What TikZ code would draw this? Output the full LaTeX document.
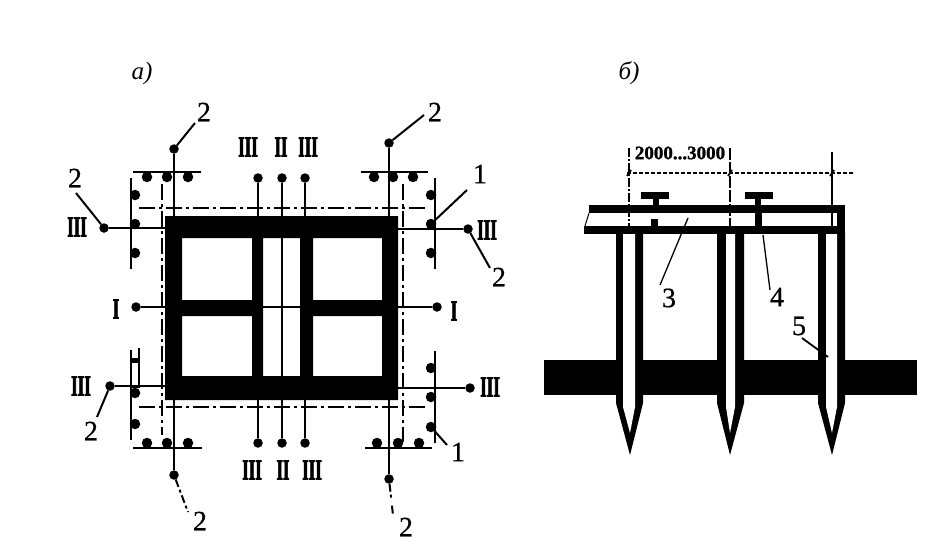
\documentclass[tikz,border=0pt]{standalone}
\usepackage{fontspec}
\setmainfont{Liberation Serif}
\newfontfamily\romfont[FakeBold=3]{Liberation Serif}
\newfontfamily\numfont[FakeBold=0.6]{Liberation Serif}
\newfontfamily\dimfont[FakeBold=1.2]{Liberation Serif}
\tikzset{
  x=1pt,y=-1pt,
  every node/.style={inner sep=0pt,outer sep=0pt},
  dotn/.style={circle,fill=black,minimum size=9.5pt},
  smalldot/.style={circle,fill=black,minimum size=10.5pt},
  thinl/.style={line width=1.5pt},
  leaderl/.style={line width=2pt},
  axisl/.style={line width=1.5pt,dash pattern=on 16pt off 4pt on 3pt off 4pt},
  num/.style={font=\fontsize{28}{28}\numfont},
  rom/.style={font=\fontsize{29}{29}\romfont\bfseries,xscale=.58},
  ital/.style={font=\fontsize{25}{25}\selectfont\itshape},
  dimtext/.style={font=\fontsize{19}{19}\dimfont\bfseries},
  wall/.style={fill=black,draw=none},
}
\begin{document}
\begin{tikzpicture}
\useasboundingbox (0,0) rectangle (949,551);
% titles
\node[ital] (ta) at (142,73) {a)};
\node[ital] (tb) at (629,73) {б)};
% frame
\path[wall,even odd rule] (165,216) rectangle (398,400)
  (182,238) rectangle (252,300) (182,316) rectangle (252,376)
  (263,238) rectangle (300,376)
  (313,238) rectangle (382,300) (313,316) rectangle (382,376);
\coordinate (fL) at (165,307); \coordinate (fR) at (398,307);
% axes
\coordinate (ah1) at (139,208); \coordinate (ah2) at (427,208);
\coordinate (ah3) at (139,407); \coordinate (ah4) at (428,407);
\coordinate (av1) at (162,184); \coordinate (av2) at (162,435);
\coordinate (av3) at (403,184); \coordinate (av4) at (403,442);
\draw[axisl] (ah1) -- (ah2);
\draw[axisl] (ah3) -- (ah4);
\draw[axisl] (av1) -- (av2);
\draw[axisl] (av3) -- (av4);
% batter bars
\coordinate (b1a) at (133,172); \coordinate (b1b) at (201,172);
\coordinate (b2a) at (361,172); \coordinate (b2b) at (428,172);
\coordinate (b3a) at (133,448); \coordinate (b3b) at (202,448);
\coordinate (b4a) at (365,448); \coordinate (b4b) at (432,448);
\coordinate (b5a) at (131,178); \coordinate (b5b) at (131,269);
\coordinate (b6a) at (435,178); \coordinate (b6b) at (435,269);
\coordinate (b7a) at (131,350); \coordinate (b7b) at (131,440);
\coordinate (b8a) at (435,351); \coordinate (b8b) at (435,443);
\foreach \p/\q in {b1a/b1b,b2a/b2b,b3a/b3b,b4a/b4b,b5a/b5b,b6a/b6b,b7a/b7b,b8a/b8b}
  \draw[line width=2.6pt] (\p) -- (\q);
% nails
\foreach \n/\x/\y in {n1/147/177,n2/167/177,n3/188/177,n4/374/177,n5/393/177,n6/413/177,
  n7/147/443,n8/167/443,n9/188/443,n10/377/443,n11/398/443,n12/419/443,
  n13/135/195,n14/135/224,n15/135/253,n16/431/195,n17/431/224,n18/431/253,
  n19/135/393,n20/135/424,n21/431/368,n22/431/397,n23/431/427}
  \node[smalldot] (\n) at (\x,\y) {};
\draw[line width=2.4pt] (131,360) -- (139,360) -- (139,387) -- (131,387);
\draw[line width=2.4pt] (139,348) -- (139,360);
\fill (131,358) rectangle (139,363);
% section-line dots
\foreach \n/\x/\y in {s1/258/178,s2/282/178,s3/305/178,s4/258/443,s5/282/443,s6/305/443,
  a1/174/149,a2/389/143,a3/174/475,a4/389/479,
  h1/104/228,h2/468/229,h3/110/386,h4/470/388,h5/136/307,h6/437/307}
  \node[dotn] (\n) at (\x,\y) {};
\foreach \d/\x/\y in {s1/258/216,s2/282/216,s3/305/216,s4/258/400,s5/282/400,s6/305/400,
  a1/174/216,a2/389/216,a3/174/400,a4/389/400,h1/165/228,h2/398/229,h3/165/386,h4/398/388}
  \draw[thinl] (\d) -- (\x,\y);
\draw[thinl] (h5) -- (fL);
\draw[thinl] (h6) -- (fR);
\draw[thinl] (282,238) -- (282,376);
\draw[thinl] (263,307) -- (300,307);
% labels
\foreach \n/\x/\y/\t in {r1/248/147/III,r2/281/147/II,r3/308/147/III,r4/252/470/III,r5/283/470/II,r6/312/470/III,
  r7/77/227/III,r8/487/230/III,r9/81/386/III,r10/490/387/III,r11/116/309/I,r12/454/311/I}
  \node[rom] (\n) at (\x,\y) {\t};
\foreach \n/\x/\y in {c1/204/112,c2/435/112,c3/75/178,c4/499/277,c5/91/431,c6/200/521,c7/406/527}
  \node[num] (\n) at (\x,\y) {2};
\node[num] (one1) at (480,174) {1};
\node[num] (one2) at (458,452) {1};
% leaders
\coordinate (l1) at (195,123); \coordinate (l2) at (424,115); \coordinate (l3) at (76,193);
\coordinate (l4) at (490,268); \coordinate (l5) at (97,417); \coordinate (l6) at (188,512);
\coordinate (l7) at (393,515); \coordinate (l8) at (467,190); \coordinate (l9) at (447,445);
\draw[leaderl] (a1) -- (l1);
\draw[leaderl] (a2) -- (l2);
\draw[leaderl] (h1) -- (l3);
\draw[leaderl] (h2) -- (l4);
\draw[leaderl] (h3) -- (l5);
\draw[leaderl,dash pattern=on 8pt off 3pt on 3pt off 3pt] (a3) -- (l6);
\draw[leaderl,dash pattern=on 8pt off 3pt on 3pt off 8pt] (a4) -- (l7);
\draw[leaderl] (n17) -- (l8);
\draw[leaderl] (n23) -- (l9);
% ---- right figure ----
\path[wall] (544,360) rectangle (917,395);
\foreach \c/\oL/\oR/\iL/\iR in {630/616/643/623/635,730/717/744/726/735,832/818/845/826/837}{
  \fill (\oL,233) -- (\oR,233) -- (\oR,403) -- (\c,455) -- (\oL,403) -- cycle;
  \fill[white] (\iL,226) -- (\iR,226) -- (\iR,407) -- (\c,433) -- (\iL,407) -- cycle;
}
% deck
\path[wall] (589,205) rectangle (845,213);
\path[wall] (584,226) rectangle (845,234);
\path[wall] (837,205) rectangle (845,234);
\draw[line width=1pt] (589,213) -- (585,226);
% rails
\path[wall] (641,192) rectangle (669,199);
\path[wall] (653,199) rectangle (659,205);
\fill (653,205) rectangle (659,212);
\fill (651,219) rectangle (658,226);
\path[wall] (745,192) rectangle (773,199);
\path[wall] (755,199) rectangle (761,205);
\fill (755,213) rectangle (762,226);
% dimensions
\node[dimtext] (dim) at (680,153) {2000...3000};
\coordinate (d1) at (629,148); \coordinate (d1b) at (629,226);
\coordinate (d2) at (730,148); \coordinate (d2b) at (730,226);
\coordinate (d3) at (832,152); \coordinate (d3b) at (832,226);
\coordinate (d4) at (627,173); \coordinate (d5) at (854,173);
\draw[line width=1.4pt,dash pattern=on 9pt off 2pt on 2pt off 2pt] (d1) -- (d1b);
\draw[line width=1.4pt,dash pattern=on 12pt off 2pt] (d2) -- (d2b);
\draw[line width=1.6pt] (d3) -- (d3b);
\draw[line width=1.2pt,dash pattern=on 4pt off 2pt] (d4) -- (d5);
\foreach \x in {629,730,832} \draw[line width=1.8pt] (\x-2,176) -- (\x+2,170);
% numbers
\node[num] (n3t) at (669,298) {3};
\node[num] (n4t) at (777,297) {4};
\node[num] (n5t) at (799,326) {5};
\coordinate (p3) at (688,218); \coordinate (p3b) at (660,285);
\coordinate (p4) at (763,235); \coordinate (p4b) at (770,290);
\coordinate (p5) at (802,338); \coordinate (p5b) at (828,357);
\draw[line width=1.3pt] (p3) -- (p3b);
\draw[line width=1.3pt] (p4) -- (p4b);
\draw[line width=1.8pt] (p5) -- (p5b);
\end{tikzpicture}
\end{document}
